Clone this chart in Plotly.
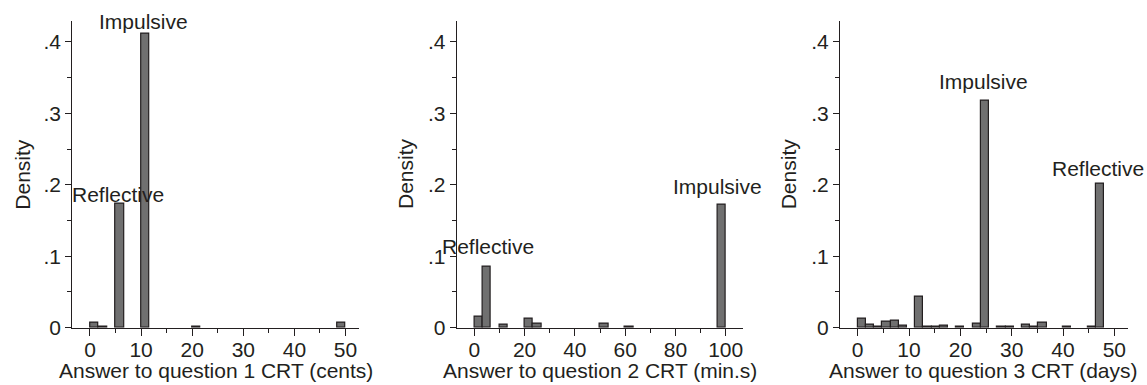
import plotly.graph_objects as go

# ---- data ----
# Question 1 (cents): 30 bins of width 50/30
q1_bin_start = [0, 1.6667, 5, 10, 20, 48.3333]
q1_density = [0.0065, 0.0013, 0.173, 0.412, 0.0013, 0.0065]
# Question 2 (min.s): 30 bins of width 100/30
q2_bin_start = [0, 3.3333, 10, 20, 23.3333, 50, 60, 96.6667]
q2_density = [0.0154, 0.0852, 0.0037, 0.0126, 0.0056, 0.0051, 0.0014, 0.1727]
# Question 3 (days): 30 bins of width 48/30
q3_bin_start = [0, 1.6, 3.2, 4.8, 6.4, 8.0, 11.2, 12.8, 14.4, 16.0, 19.2, 22.4,
                24.0, 27.2, 28.8, 32.0, 33.6, 35.2, 40.0, 44.8, 46.4]
q3_density = [0.013, 0.0042, 0.0015, 0.0084, 0.0098, 0.0022, 0.0434, 0.0010, 0.0010,
              0.0022, 0.0010, 0.0056, 0.318, 0.0010, 0.0012, 0.0042, 0.0010, 0.0075,
              0.0010, 0.0010, 0.201]
bin_widths = [50 / 30, 100 / 30, 48 / 30]

x_titles = ["Answer to question 1 CRT (cents)",
            "Answer to question 2 CRT (min.s)",
            "Answer to question 3 CRT (days)"]
y_title = "Density"
x_tickvals = [[0, 10, 20, 30, 40, 50], [0, 20, 40, 60, 80, 100], [0, 10, 20, 30, 40, 50]]
x_minorvals = [[5, 15, 25, 35, 45], [10, 30, 50, 70, 90], [5, 15, 25, 35, 45]]
y_tickvals = [0, 0.1, 0.2, 0.3, 0.4]
y_ticktext = ["0", ".1", ".2", ".3", ".4"]
y_minorvals = [0.05, 0.15, 0.25, 0.35]

# label texts with the centre of each label in data units
labels = [
    [("Impulsive", 10.46, 0.4287), ("Reflective", 5.54, 0.1869)],
    [("Reflective", 5.57, 0.1133), ("Impulsive", 96.74, 0.1977)],
    [("Impulsive", 24.48, 0.3447), ("Reflective", 46.79, 0.2233)],
]

# ---- layout geometry ----
W, H = 1147, 385
x_domains_px = [(72.3, 359.0), (456.7, 743.3), (840.0, 1127.7)]
x_ranges = [(-3.46, 52.64), (-7.0, 107.0), (-3.45, 52.6)]
y_dom = [(385 - 327.7) / H, (385 - 20.7) / H]
y_range = [0, 0.4298]
density_x_px = [21.7, 405.0, 788.3]

INK = "#231f20"
FONT = "Liberation Sans, Arial, sans-serif"
FS = 21

fig = go.Figure()
starts = [q1_bin_start, q2_bin_start, q3_bin_start]
dens = [q1_density, q2_density, q3_density]

for i in range(3):
    sfx = "" if i == 0 else str(i + 1)
    fig.add_trace(go.Bar(
        x=starts[i], y=dens[i], width=bin_widths[i], offset=0,
        marker=dict(color="#707070", line=dict(color=INK, width=1.2)),
        xaxis="x" + sfx, yaxis="y" + sfx, showlegend=False, hoverinfo="x+y",
    ))
    dom = [x_domains_px[i][0] / W, x_domains_px[i][1] / W]
    fig.layout["xaxis" + sfx] = dict(
        domain=dom, range=list(x_ranges[i]), anchor="y" + sfx, automargin=False,
        showline=True, linecolor=INK, linewidth=1.2, showgrid=False, zeroline=False,
        ticks="outside", ticklen=7, tickwidth=1.2, tickcolor=INK,
        ticklabelstandoff=-4,
        tickmode="array", tickvals=x_tickvals[i],
        minor=dict(tickmode="array", tickvals=x_minorvals[i], ticks="outside",
                   ticklen=4, tickwidth=1.2, tickcolor=INK, showgrid=False),
        tickfont=dict(family=FONT, size=FS, color=INK), fixedrange=True,
    )
    fig.layout["yaxis" + sfx] = dict(
        domain=y_dom, range=y_range, anchor="x" + sfx, automargin=False,
        showline=True, linecolor=INK, linewidth=1.2, showgrid=False, zeroline=False,
        ticks="outside", ticklen=6, tickwidth=1.2, tickcolor=INK,
        tickmode="array", tickvals=y_tickvals, ticktext=y_ticktext,
        minor=dict(tickmode="array", tickvals=y_minorvals, ticks="outside",
                   ticklen=4, tickwidth=1.2, tickcolor=INK, showgrid=False),
        tickfont=dict(family=FONT, size=FS, color=INK), fixedrange=True,
    )
    fig.add_annotation(text=x_titles[i], xref="paper", yref="paper",
                       x=(dom[0] + dom[1]) / 2, y=(385 - 370.8) / H,
                       xanchor="center", yanchor="middle", showarrow=False,
                       font=dict(family=FONT, size=FS, color=INK))
    fig.add_annotation(text=y_title, xref="paper", yref="paper",
                       x=density_x_px[i] / W, y=(385 - 174) / H, textangle=-90,
                       xanchor="center", yanchor="middle", showarrow=False,
                       font=dict(family=FONT, size=FS, color=INK))
    for txt, lx, ly in labels[i]:
        fig.add_annotation(text=txt, x=lx, y=ly, xref="x" + sfx, yref="y" + sfx,
                           xanchor="center", yanchor="middle", showarrow=False,
                           font=dict(family=FONT, size=FS, color=INK))

fig.update_layout(
    width=W, height=H, margin=dict(l=0, r=0, t=0, b=0, autoexpand=False),
    paper_bgcolor="white", plot_bgcolor="white", bargap=0, showlegend=False,
)

fig.write_html(
    "out.html",
    config={"displayModeBar": False},
    post_script="document.body.style.margin='0';"
                "document.documentElement.style.overflow='hidden';"
                "document.body.style.overflow='hidden';",
)
